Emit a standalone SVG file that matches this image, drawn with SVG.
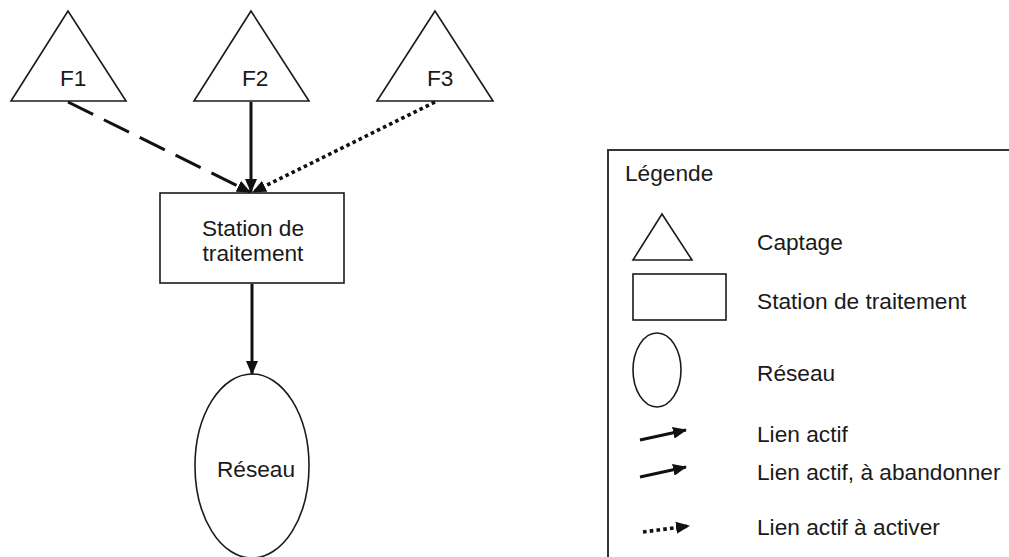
<svg xmlns="http://www.w3.org/2000/svg" width="1009" height="557" viewBox="0 0 1009 557">
<style>
.shape{fill:#fff;stroke:#1a1a1a;stroke-width:1.6}
.lbl{font-family:"Liberation Sans",Arial,sans-serif;font-size:22.7px;fill:#1a1a1a}
.mid{text-anchor:middle}
.link{fill:none;stroke:#111;stroke-width:3}
.dash{stroke-dasharray:28 12}
.dot{stroke-width:3.6;stroke-dasharray:3.6 3.2}
</style>
<defs>
<marker id="ah" markerUnits="userSpaceOnUse" markerWidth="14" markerHeight="12" viewBox="0 0 14 12" refX="13" refY="6" orient="auto">
<path d="M0,0 L14,6 L0,12 Z" fill="#111"/>
</marker>
</defs>
<rect width="1009" height="557" fill="#fff"/>
<g id="F1">
<polygon class="shape" points="68,11 11,101 126,101"/>
<text class="lbl" x="60" y="86">F1</text>
</g>
<g id="F2">
<polygon class="shape" points="251,11 194,101 309,101"/>
<text class="lbl" x="242" y="86">F2</text>
</g>
<g id="F3">
<polygon class="shape" points="435,11 377,101 493,101"/>
<text class="lbl" x="427" y="86">F3</text>
</g>
<g id="station">
<rect class="shape" x="160" y="193" width="184" height="90"/>
<text class="lbl mid" x="253" y="236">Station de</text>
<text class="lbl mid" x="253" y="261">traitement</text>
</g>
<g id="reseau">
<ellipse class="shape" cx="252" cy="466" rx="57" ry="92"/>
<text class="lbl mid" x="256" y="477">Réseau</text>
</g>
<g id="connectors">
<line class="link dash" x1="68" y1="102" x2="250" y2="192" marker-end="url(#ah)"/>
<line class="link" x1="251" y1="102" x2="251" y2="192" marker-end="url(#ah)"/>
<line class="link dot" x1="435" y1="102" x2="253" y2="192" marker-end="url(#ah)"/>
<line class="link" x1="252" y1="284" x2="252" y2="374" marker-end="url(#ah)"/>
</g>
<g id="legende">
<rect x="608" y="150" width="500" height="500" fill="none" stroke="#333" stroke-width="2"/>
<text class="lbl" x="625" y="181">Légende</text>
<polygon class="shape" points="662,214 633,260 692,260"/>
<text class="lbl" x="757" y="250">Captage</text>
<rect class="shape" x="633" y="274" width="93" height="46"/>
<text class="lbl" x="757" y="309">Station de traitement</text>
<ellipse class="shape" cx="657" cy="370" rx="24" ry="37"/>
<text class="lbl" x="757" y="381">Réseau</text>
<line class="link" x1="640" y1="440" x2="686" y2="430" marker-end="url(#ah)"/>
<text class="lbl" x="757" y="442">Lien actif</text>
<line class="link" x1="640" y1="477" x2="686" y2="467" marker-end="url(#ah)"/>
<text class="lbl" x="757" y="480">Lien actif, à abandonner</text>
<line class="link dot" x1="643" y1="532" x2="689" y2="526" marker-end="url(#ah)"/>
<text class="lbl" x="757" y="535">Lien actif à activer</text>
</g>
</svg>
